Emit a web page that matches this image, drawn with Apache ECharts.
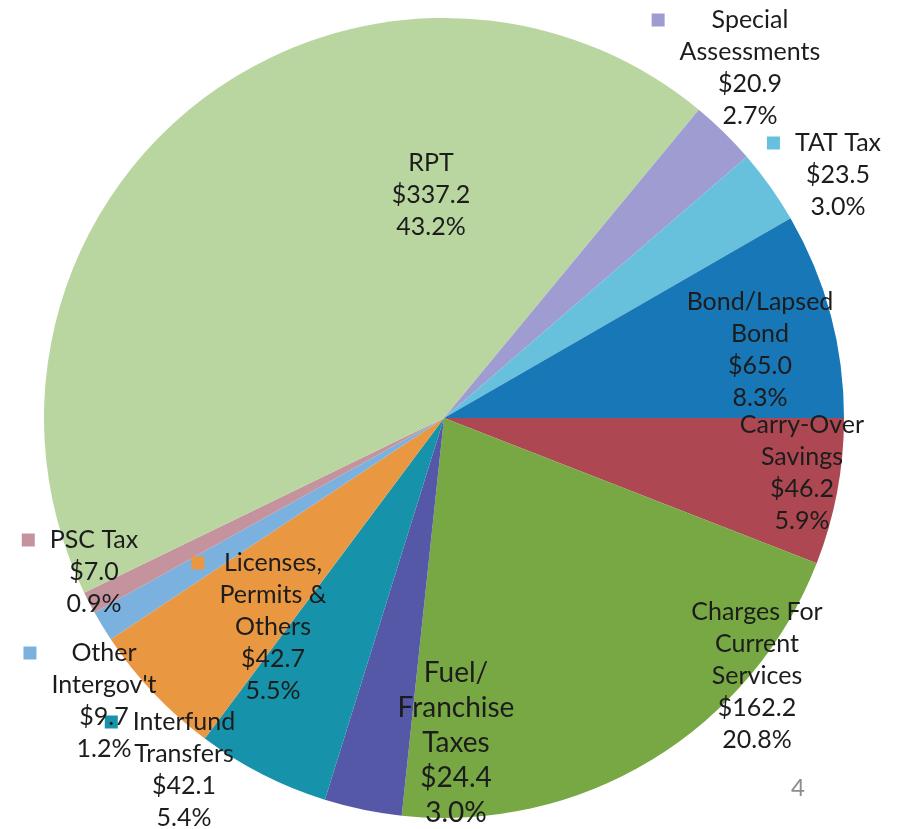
<!DOCTYPE html>
<html>
<head>
<meta charset="utf-8">
<title>Revenue pie</title>
<script src="https://cdn.jsdelivr.net/npm/echarts@6/dist/echarts.min.js"></script>
<style>
    html, body { margin: 0; padding: 0; background: #fff; }
    #main { width: 904px; height: 829px; }
</style>
</head>
<body>
<div id="main"></div>
<script>
//分类名称（按图中的换行）
var categories = ['Carry-Over\nSavings', 'Charges For\nCurrent\nServices', 'Fuel/\nFranchise\nTaxes',
    'Interfund\nTransfers', 'Licenses,\nPermits &\nOthers', 'Other\nIntergov\'t', 'PSC Tax', 'RPT',
    'Special\nAssessments', 'TAT Tax', 'Bond/Lapsed\nBond'];
//金额
var amounts = [46.2, 162.2, 24.4, 42.1, 42.7, 9.7, 7.0, 337.2, 20.9, 23.5, 65.0];
//图上写的百分比
var pctLabels = ['5.9%', '20.8%', '3.0%', '5.4%', '5.5%', '1.2%', '0.9%', '43.2%', '2.7%', '3.0%', '8.3%'];
var pageNo = '4';

//颜色
var colors = ['#ad4852', '#77a843', '#5558a6', '#1693aa', '#e99741', '#7ab1df', '#c4939d',
    '#bad6a0', '#9f9cd2', '#67c0dc', '#1877b6'];
//标签位置 [中心x, 顶部y, 是否带图例方块]
var labelSpots = [
    [802, 409, false],
    [757, 596, false],
    [456, 655, false],
    [170, 706, true],
    [259, 547, true],
    [90, 637, true],
    [80, 524, true],
    [431, 147, false],
    [736, 4, true],
    [824, 127, true],
    [746, 286, true]
];

var fontName = 'Lato';
var textColor = '#1c1c1c';

var rich = {
    t: { fontFamily: fontName, fontSize: 25, lineHeight: 32, color: textColor, align: 'center' },
    b: { fontFamily: fontName, fontSize: 28, lineHeight: 35, color: textColor, align: 'center' },
    sp: { width: 28, align: 'left' },
    gp: { width: 15, align: 'left' }
};
for (var i = 0; i < colors.length; i++) {
    rich['sq' + i] = { width: 13, height: 13, backgroundColor: colors[i], align: 'left' };
}

function labelText(p) {
    var i = p.dataIndex;
    var st = i === 2 ? 'b' : 't';
    var lines = categories[i].split('\n');
    lines.push('$' + amounts[i].toFixed(1));
    lines.push(pctLabels[i]);
    var out = [];
    for (var k = 0; k < lines.length; k++) {
        var pre = '';
        if (labelSpots[i][2]) {
            pre = k === 0 ? '{sq' + i + '|}{gp|}' : '{sp|}';
        }
        out.push(pre + '{' + st + '|' + lines[k] + '}');
    }
    return out.join('\n');
}

var pieData = [];
for (var j = 0; j < amounts.length; j++) {
    pieData.push({ name: categories[j], value: amounts[j] });
}

var myChart = echarts.init(document.getElementById('main'));
var option = {
    animation: false,
    color: colors,
    graphic: [{
        type: 'text',
        left: 791,
        top: 776,
        style: { text: pageNo, fontFamily: fontName, fontSize: 24, fill: '#8c8c8c' }
    }],
    series: [{
        type: 'pie',
        center: [444, 418],
        radius: 400,
        startAngle: 0,
        clockwise: true,
        itemStyle: { borderWidth: 0 },
        label: {
            show: true,
            position: 'inside',
            lineHeight: 32,
            formatter: labelText,
            rich: rich
        },
        labelLine: { show: false },
        labelLayout: function (p) {
            var s = labelSpots[p.dataIndex];
            return { x: s[0], y: s[1], align: 'center', verticalAlign: 'top' };
        },
        emphasis: { disabled: true },
        data: pieData
    }]
};
myChart.setOption(option);
</script>
</body>
</html>
